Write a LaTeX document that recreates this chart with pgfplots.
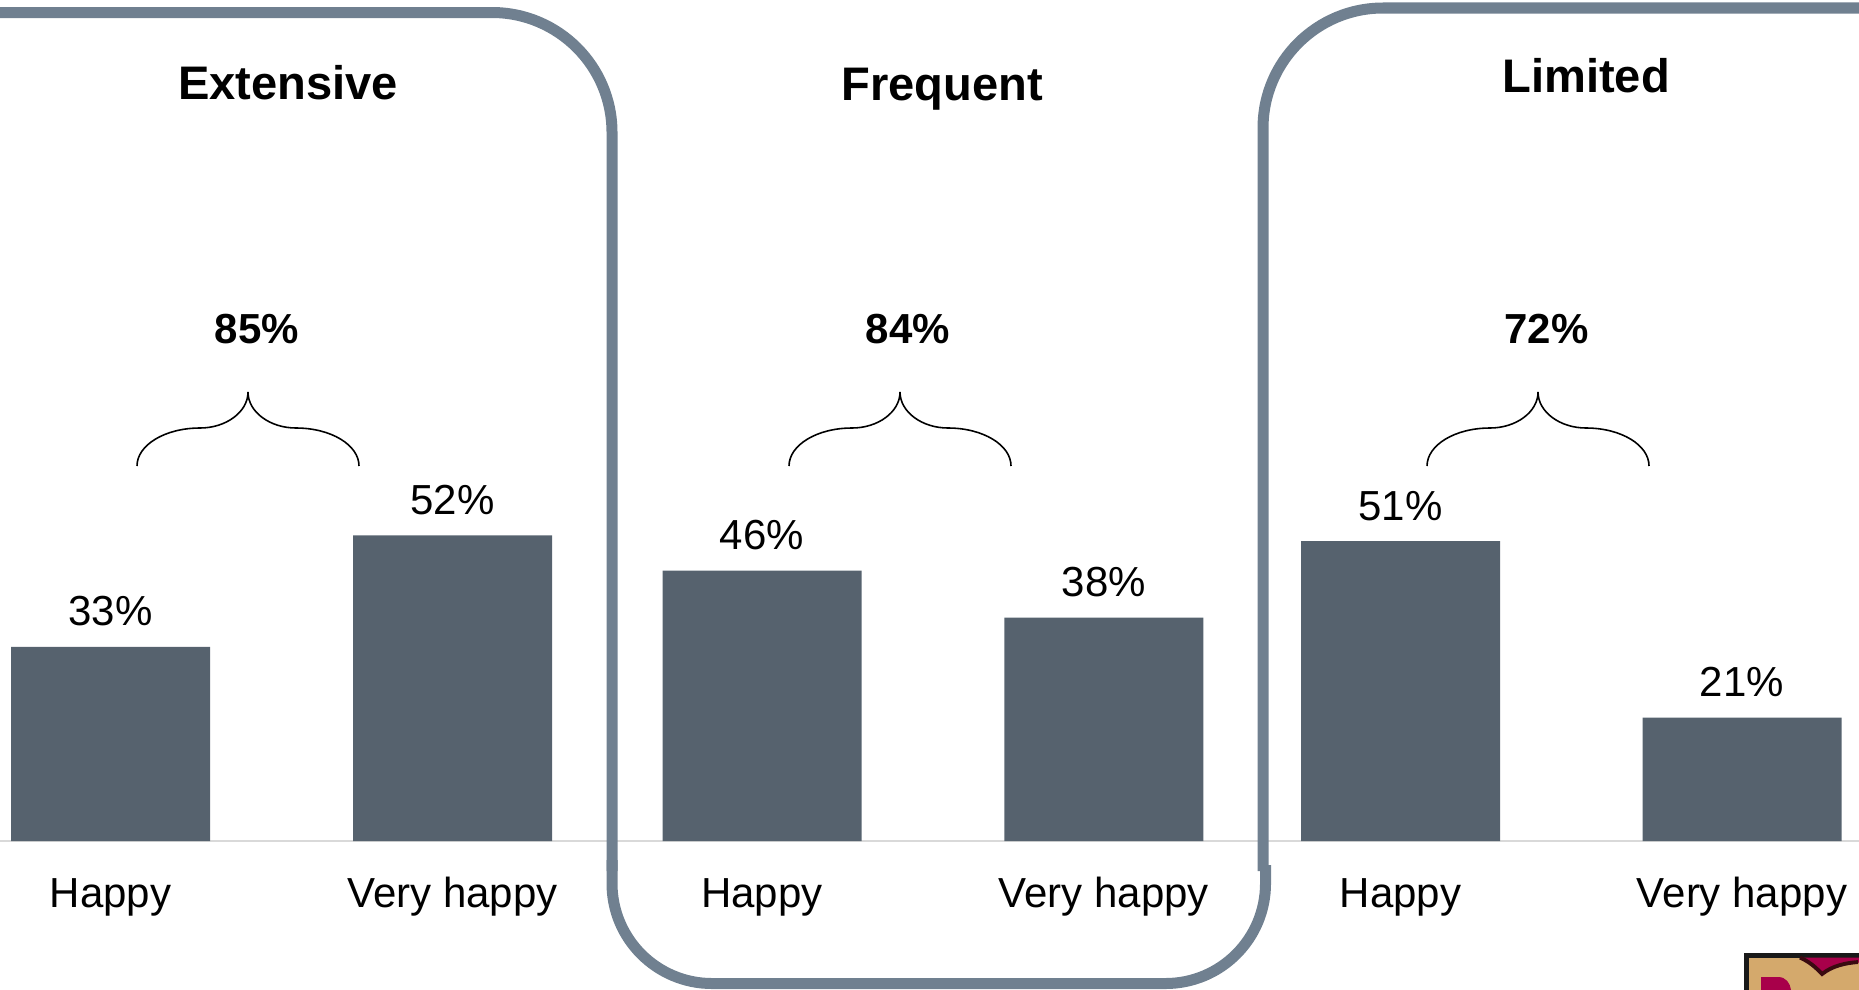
\documentclass[border=0pt]{standalone}
\usepackage{pgfplots}
\pgfplotsset{compat=1.18}
\usepackage{fontspec}
\setmainfont{Liberation Sans}

\definecolor{barcol}{HTML}{56626E}
\definecolor{boxcol}{HTML}{708090}
\definecolor{basecol}{HTML}{D9D9D9}
\definecolor{logotan}{HTML}{D4A96C}
\definecolor{logored}{HTML}{A8004A}
\definecolor{logobrown}{HTML}{3A0A10}

\newcommand\lbl{\fontsize{11.95}{14}\selectfont}
\newcommand\ttl{\fontsize{13.4}{16}\selectfont\bfseries}

% curly brace opening downwards, tip at (#1,392) in page units
\newcommand\topbrace[1]{%
  \draw[black, line width=0.45pt, shift={(#1,0)}]
    (-111,466) .. controls (-111,445) and (-83,428) .. (-48,428)
    .. controls (-22,428) and (0,412) .. (0,392)
    .. controls (0,412) and (22,428) .. (48,428)
    .. controls (83,428) and (111,445) .. (111,466);}

\begin{document}
\begin{tikzpicture}
\begin{axis}[
  at={(0,0)}, anchor=south west, scale only axis,
  width=18.59cm, height=9.89cm,
  xmin=0, xmax=1859, ymin=-25.17, ymax=143.03,
  axis x line=middle, axis y line=none,
  x axis line style={draw=basecol, line width=0.7pt, -},
  xtick={110.5,452.5,762,1103.8,1400.5,1742},
  xticklabels={Happy,Very happy,Happy,Very happy,Happy,Very happy},
  major tick length=0pt,
  xticklabel style={font=\lbl, anchor=base, inner sep=0pt, yshift=-0.66cm},
  ytick=\empty,
  /pgf/number format/assume math mode=true,
  clip=false,
]
\addplot[ybar, bar width=199, fill=barcol, draw=none,
  nodes near coords={\pgfmathprintnumber{\pgfplotspointmeta}\%},
  every node near coord/.append style={font=\lbl, inner sep=0pt, yshift=0.2cm, text=black}]
  coordinates {(110.5,33) (452.5,52) (762,46) (1103.8,38) (1400.5,51) (1742,21)};
\end{axis}

% frames, group titles, totals and braces (page units: 0.1 mm, y downwards)
\begin{scope}[shift={(0cm,9.89cm)}, x=0.1mm, y=-0.1mm]
  \draw[boxcol, line width=0.11cm, rounded corners=1.2cm]
    (-20,12.5) -- (612,12.5) -- (612,871);
  \draw[boxcol, line width=0.11cm, rounded corners=1cm]
    (612,860) -- (612,983.5) -- (1265.5,983.5) -- (1265.5,865);
  \draw[boxcol, line width=0.11cm, rounded corners=1.2cm]
    (1263,871) -- (1263,8) -- (1880,8);

  \node[anchor=base, inner sep=0pt, font=\ttl] at (288,99.5) {Extensive};
  \node[anchor=base, inner sep=0pt, font=\ttl] at (942,100) {Frequent};
  \node[anchor=base, inner sep=0pt, font=\ttl] at (1586,92) {Limited};

  \node[anchor=base, inner sep=0pt, font=\lbl\bfseries] at (256.7,343) {85\%};
  \node[anchor=base, inner sep=0pt, font=\lbl\bfseries] at (908,343) {84\%};
  \node[anchor=base, inner sep=0pt, font=\lbl\bfseries] at (1546.6,343) {72\%};

  \topbrace{248}
  \topbrace{900}
  \topbrace{1538}

  % corner logo
  \fill[black!90] (1744,953) rectangle (1870,1000);
  \fill[logotan] (1748.5,957.5) rectangle (1870,1000);
  \fill[logored] (1800,957.5) .. controls (1812,963) and (1818,970) .. (1822,974)
    .. controls (1832,966) and (1845,963) .. (1870,962) -- (1870,957.5) -- cycle;
  \draw[logobrown, line width=1.1pt] (1800,957.5) .. controls (1812,963) and (1818,970) .. (1822,974)
    .. controls (1832,966) and (1845,963) .. (1858,962);
  \fill[logored] (1761,1000) -- (1761,977) -- (1778,977)
    .. controls (1786,977) and (1790,983) .. (1791,990) -- (1791,1000) -- cycle;
\end{scope}
\pgfresetboundingbox
\path[use as bounding box] (0,0) rectangle (18.59cm,9.89cm);
\end{tikzpicture}
\end{document}
